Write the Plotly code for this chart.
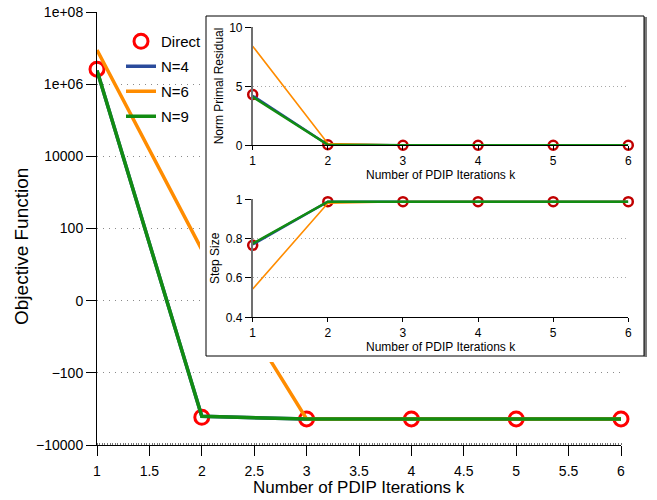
import numpy as np
import plotly.graph_objects as go

# ---------------- data ----------------
k = [1, 2, 3, 4, 5, 6]
series_names = ["Direct", "N=4", "N=6", "N=9"]

# Objective function (raw values, drawn on a symmetric-log axis)
obj_direct = [2.6e6, -1700, -1900, -1900, -1900, -1900]
obj_n4 = [2.4e6, -1600, -1900, -1900, -1900, -1900]
obj_n6 = [8.8e6, 25, -1900, -1900, -1900, -1900]
obj_n9 = [2.4e6, -1600, -1900, -1900, -1900, -1900]

# Norm primal residual (inset, top)
res_direct = [4.3, 0.05, 0.0, 0.0, 0.0, 0.0]
res_n4 = [4.2, 0.05, 0.0, 0.0, 0.0, 0.0]
res_n6 = [8.4, 0.15, 0.02, 0.0, 0.0, 0.0]
res_n9 = [4.1, 0.05, 0.0, 0.0, 0.0, 0.0]

# Step size (inset, bottom)
step_direct = [0.766, 0.988, 0.988, 0.988, 0.988, 0.988]
step_n4 = [0.770, 0.988, 0.988, 0.988, 0.988, 0.988]
step_n6 = [0.544, 0.980, 0.988, 0.988, 0.988, 0.988]
step_n9 = [0.775, 0.988, 0.988, 0.988, 0.988, 0.988]

obj_tick_values = [1e8, 1e6, 1e4, 100, 0, -100, -1e4]
obj_tick_labels = ["1e+08", "1e+06", "10000", "100", "0", "\u2212100", "\u221210000"]
main_x_ticks = [1, 1.5, 2, 2.5, 3, 3.5, 4, 4.5, 5, 5.5, 6]
inset_x_ticks = [1, 2, 3, 4, 5, 6]
res_ticks = [0, 5, 10]
step_ticks = [0.4, 0.6, 0.8, 1]

# ---------------- helpers ----------------
W, H = 657, 500
FONT = "Liberation Sans, Arial, Helvetica, sans-serif"


def symlog(v):
    v = np.asarray(v, dtype=float)
    return np.sign(v) * np.log10(1.0 + np.abs(v))


def fx(px):
    return px / W


def fy(py):
    return (H - py) / H


RED = "#ff0000"
DARKRED = "#c00000"
BLUE = "#2a4b9b"
ORANGE = "#ff8c00"
GREEN = "#128c12"

fig = go.Figure()

# ---------------- main plot ----------------
fig.add_trace(go.Scatter(
    x=k, y=symlog(obj_direct), name=series_names[0], mode="markers",
    marker=dict(symbol="circle-open", size=14, color=RED, line=dict(width=3, color=RED)),
    cliponaxis=False, legendgroup="a", xaxis="x", yaxis="y"))
fig.add_trace(go.Scatter(
    x=k, y=symlog(obj_n4), name=series_names[1], mode="lines",
    line=dict(color=BLUE, width=3.5), legendgroup="b", xaxis="x", yaxis="y"))
fig.add_trace(go.Scatter(
    x=k, y=symlog(obj_n6), name=series_names[2], mode="lines",
    line=dict(color=ORANGE, width=3.5), legendgroup="c", xaxis="x", yaxis="y"))
fig.add_trace(go.Scatter(
    x=k, y=symlog(obj_n9), name=series_names[3], mode="lines",
    line=dict(color=GREEN, width=3.5), legendgroup="d", xaxis="x", yaxis="y"))

# ---------------- inset box (drawn on its own pixel-scaled subplot) ----------------
fig.add_trace(go.Scatter(
    x=[644, 647, 647, 644, 644], y=[17, 17, 357, 357, 17], mode="lines",
    fill="toself", fillcolor="#7a7a7a", line=dict(width=0, color="#7a7a7a"),
    showlegend=False, hoverinfo="skip", xaxis="x2", yaxis="y2"))
fig.add_trace(go.Scatter(
    x=[206, 644, 644, 206, 206], y=[16, 16, 356, 356, 16], mode="lines",
    fill="toself", fillcolor="white", line=dict(width=1, color="black"),
    showlegend=False, hoverinfo="skip", xaxis="x2", yaxis="y2"))

# ---------------- inset top: residual ----------------
for ys, col, w, mode in [(res_direct, DARKRED, 0, "markers"), (res_n4, BLUE, 2.5, "lines"),
                         (res_n6, ORANGE, 1.6, "lines"), (res_n9, GREEN, 2.5, "lines")]:
    if mode == "markers":
        fig.add_trace(go.Scatter(x=k, y=ys, mode="markers", showlegend=False,
                                 marker=dict(symbol="circle-open", size=9, color=col,
                                             line=dict(width=2.5, color=col)),
                                 cliponaxis=False, xaxis="x3", yaxis="y3"))
    else:
        fig.add_trace(go.Scatter(x=k, y=ys, mode="lines", showlegend=False,
                                 line=dict(color=col, width=w), xaxis="x3", yaxis="y3"))

# ---------------- inset bottom: step size ----------------
for ys, col, w, mode in [(step_direct, DARKRED, 0, "markers"), (step_n4, BLUE, 2.5, "lines"),
                         (step_n6, ORANGE, 1.6, "lines"), (step_n9, GREEN, 2.5, "lines")]:
    if mode == "markers":
        fig.add_trace(go.Scatter(x=k, y=ys, mode="markers", showlegend=False,
                                 marker=dict(symbol="circle-open", size=9, color=col,
                                             line=dict(width=2.5, color=col)),
                                 cliponaxis=False, xaxis="x4", yaxis="y4"))
    else:
        fig.add_trace(go.Scatter(x=k, y=ys, mode="lines", showlegend=False,
                                 line=dict(color=col, width=w), xaxis="x4", yaxis="y4"))

main_grid = dict(showgrid=True, gridcolor="#8a8a8a", griddash="1px,5px", gridwidth=1)
inset_grid = dict(showgrid=True, gridcolor="#a8a8a8", griddash="1px,3px", gridwidth=1)

fig.update_layout(
    width=W, height=H,
    margin=dict(l=0, r=0, t=0, b=0, autoexpand=False),
    paper_bgcolor="white", plot_bgcolor="white",
    font=dict(family=FONT, color="black"),
    showlegend=True,
    legend=dict(x=fx(121), y=fy(25), xanchor="left", yanchor="top",
                bgcolor="rgba(0,0,0,0)", font=dict(size=15, family=FONT),
                tracegroupgap=2.5),
    xaxis=dict(domain=[fx(97), fx(621)], anchor="y", range=[1, 6],
               tickvals=main_x_ticks, ticks="outside", ticklen=10, tickcolor="black",
               ticklabelstandoff=3,
               showline=True, linecolor="black", linewidth=1, showgrid=False,
               zeroline=False, tickfont=dict(size=14),
               minor=dict(dtick=0.025, ticks="inside", ticklen=2, tickcolor="#777",
                          showgrid=False)),
    yaxis=dict(domain=[fy(445), fy(12)], anchor="x",
               range=[float(symlog(-1e4)), float(symlog(1e8)) + 1e-6],
               tickvals=list(symlog(obj_tick_values)), ticktext=obj_tick_labels,
               ticks="outside", ticklen=10, tickcolor="black",
               showline=True, linecolor="black", linewidth=1, zeroline=False,
               tickfont=dict(size=14), **main_grid),
    xaxis2=dict(domain=[fx(200), fx(655)], anchor="y2", range=[200, 655], visible=False,
                fixedrange=True),
    yaxis2=dict(domain=[fy(362), fy(10)], anchor="x2", range=[362, 10], visible=False,
                fixedrange=True),
    xaxis3=dict(domain=[fx(252.7), fx(628.3)], anchor="y3", range=[1, 6],
                tickvals=inset_x_ticks, ticks="outside", ticklen=4, tickcolor="black",
                showline=True, linecolor="black", linewidth=1, showgrid=False,
                zeroline=False, tickfont=dict(size=12)),
    yaxis3=dict(domain=[fy(145.3), fy(27.3)], anchor="x3", range=[0, 10],
                tickvals=res_ticks, ticks="outside", ticklen=6, tickcolor="black",
                showline=True, linecolor="#707070", linewidth=1.5, zeroline=False,
                tickfont=dict(size=12), **inset_grid),
    xaxis4=dict(domain=[fx(252.7), fx(628.3)], anchor="y4", range=[1, 6],
                tickvals=inset_x_ticks, ticks="outside", ticklen=4, tickcolor="black",
                showline=True, linecolor="black", linewidth=1, showgrid=False,
                zeroline=False, tickfont=dict(size=12)),
    yaxis4=dict(domain=[fy(317.3), fy(199.3)], anchor="x4", range=[0.4, 1],
                tickvals=step_ticks, ticks="outside", ticklen=6, tickcolor="black",
                showline=True, linecolor="#707070", linewidth=1.5, zeroline=False,
                tickfont=dict(size=12), **inset_grid),
)

ann = [
    dict(text="Number of PDIP Iterations k", x=fx(358.8), y=fy(487), size=17, angle=0),
    dict(text="Objective Function", x=fx(21), y=fy(247), size=19, angle=-90),
    dict(text="Number of PDIP Iterations k", x=fx(440.5), y=fy(175), size=12, angle=0),
    dict(text="Number of PDIP Iterations k", x=fx(440.5), y=fy(346.7), size=12, angle=0),
    dict(text="Norm Primal Residual", x=fx(219), y=fy(86.3), size=12, angle=-90),
    dict(text="Step Size", x=fx(215), y=fy(258), size=12, angle=-90),
]
for a in ann:
    fig.add_annotation(text=a["text"], x=a["x"], y=a["y"], xref="paper", yref="paper",
                       xanchor="center", yanchor="middle", showarrow=False,
                       textangle=a["angle"], font=dict(size=a["size"], family=FONT, color="black"))

# remove the default page margin so the figure sits at the window's top-left corner
fig.write_html("out.html", config={"displayModeBar": False},
               post_script="document.body.style.margin='0px';")
